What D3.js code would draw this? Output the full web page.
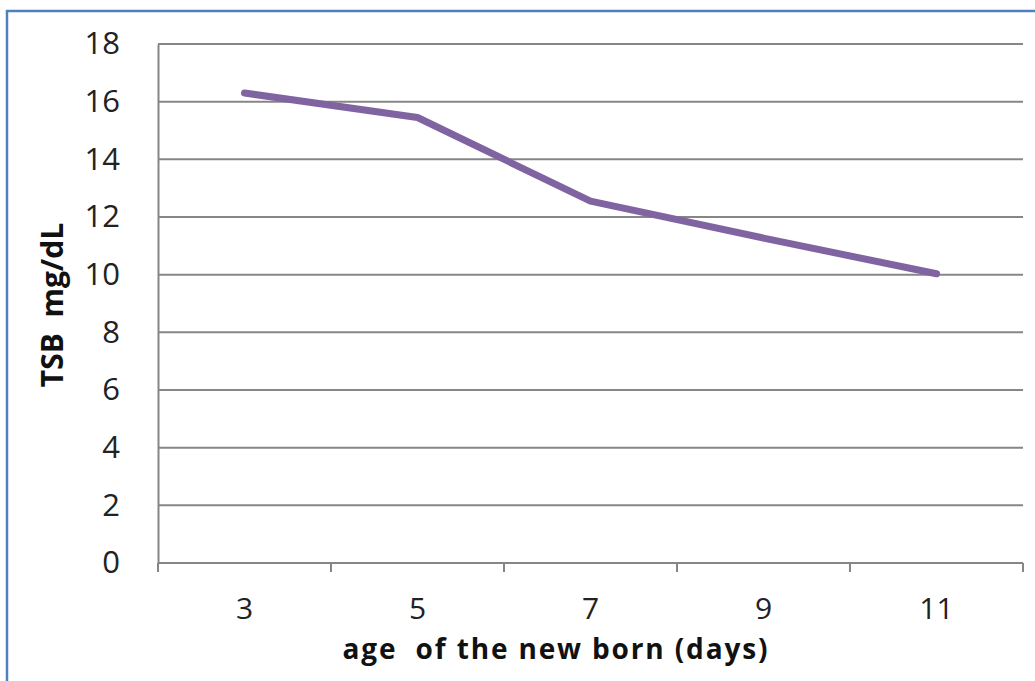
<!DOCTYPE html>
<html>
<head>
<meta charset="utf-8">
<script src="https://cdn.jsdelivr.net/npm/d3@7"></script>
<style>
  html, body { margin: 0; padding: 0; background: #fff; }
  svg { display: block; }
  text { white-space: pre; }
</style>
</head>
<body>
<script>
const categories = ["3", "5", "7", "9", "11"];
const tsbValues = [16.3, 15.45, 12.55, 11.27, 10.03];
const yTicks = [0, 2, 4, 6, 8, 10, 12, 14, 16, 18];
const xTitle = "age  of the new born (days)";
const yTitle = "TSB  mg/dL";

const W = 1035, H = 681;
const margin = { left: 158, right: 1023, top: 44, bottom: 563 };
const font = "'Open Sans', 'Noto Sans', sans-serif";

const svg = d3.select("body").append("svg").attr("width", W).attr("height", H);

// outer border
svg.append("rect")
  .attr("x", 7).attr("y", 11).attr("width", W).attr("height", H)
  .attr("fill", "#fff").attr("stroke", "#4F81BD").attr("stroke-width", 2.5);

const x = d3.scaleBand().domain(categories).range([margin.left, margin.right]);
const y = d3.scaleLinear().domain([0, 18]).range([margin.bottom, margin.top]);

// gridlines
svg.append("g").selectAll("line").data(yTicks.filter(d => d > 0)).join("line")
  .attr("x1", margin.left).attr("x2", margin.right)
  .attr("y1", d => y(d)).attr("y2", d => y(d))
  .attr("stroke", "#868686").attr("stroke-width", 2);

// y axis
const yAxis = svg.append("g").attr("transform", `translate(${margin.left},0)`)
  .call(d3.axisLeft(y).tickValues(yTicks).tickSize(0).tickPadding(38).tickFormat(d3.format("d")));
yAxis.select(".domain").attr("stroke", "#868686").attr("stroke-width", 2);
yAxis.selectAll("text").attr("font-family", font).attr("font-size", 31).attr("fill", "#222");

// x axis
const xAxis = svg.append("g").attr("transform", `translate(0,${margin.bottom})`)
  .call(d3.axisBottom(x).tickSize(0).tickPadding(35));
xAxis.select(".domain").attr("stroke", "#868686").attr("stroke-width", 2).attr("d", `M${margin.left},0H${margin.right}`);
xAxis.selectAll("text").attr("font-family", font).attr("font-size", 30).attr("fill", "#222");

// x tick marks at band boundaries
const bounds = categories.map(c => x(c)).concat([x(categories[categories.length - 1]) + x.bandwidth()]);
svg.append("g").selectAll("line").data(bounds).join("line")
  .attr("x1", d => d).attr("x2", d => d)
  .attr("y1", margin.bottom).attr("y2", margin.bottom + 9)
  .attr("stroke", "#868686").attr("stroke-width", 2);

// line
const line = d3.line()
  .x((d, i) => x(categories[i]) + x.bandwidth() / 2)
  .y(d => y(d));
svg.append("path").datum(tsbValues)
  .attr("d", line)
  .attr("fill", "none").attr("stroke", "#8064A2").attr("stroke-width", 7)
  .attr("stroke-linecap", "round").attr("stroke-linejoin", "round");

// axis titles
svg.append("text")
  .attr("x", 555).attr("y", 659)
  .attr("text-anchor", "middle")
  .attr("font-family", font).attr("font-weight", "bold").attr("font-size", 28)
  .attr("textLength", 425).attr("lengthAdjust", "spacing")
  .attr("fill", "#111")
  .text(xTitle);

svg.append("text")
  .attr("transform", "translate(63,305) rotate(-90)")
  .attr("text-anchor", "middle")
  .attr("font-family", font).attr("font-weight", "bold").attr("font-size", 30)
  .attr("fill", "#111")
  .text(yTitle);
</script>
</body>
</html>
